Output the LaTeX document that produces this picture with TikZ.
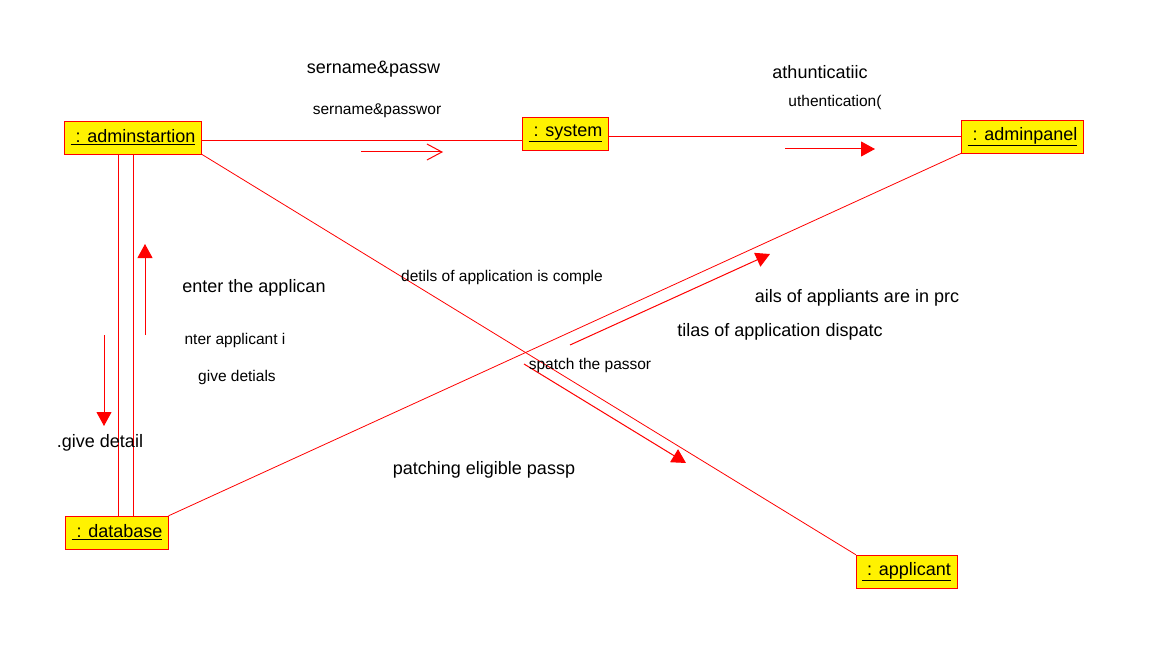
\documentclass[tikz,border=0pt]{standalone}
\usepackage{fontspec}
\setmainfont{Liberation Sans}
\usetikzlibrary{arrows.meta, positioning}

\begin{document}
\begin{tikzpicture}[
        x=1pt, y=-1pt,
        on grid,
        % Define a uniform style for all objects
        obj/.style={
            rectangle,
            draw=red,
            fill=yellow,
            minimum height=33pt,
            inner xsep=6pt,
            font=\fontsize{18}{20}\selectfont
        },
        link/.style={
            draw=red,
            line width=0.8pt
        },
        msg/.style={
            -{Triangle[length=14pt,width=15pt]},
            red,
            line width=1pt
        },
        openmsg/.style={
            -{Straight Barb[length=15pt,width=16pt]},
            red,
            line width=1pt
        },
        biglbl/.style={font=\fontsize{18}{20}\selectfont, inner sep=0pt},
        smalllbl/.style={font=\fontsize{15.5}{18}\selectfont, inner sep=0pt}
    ]

    \useasboundingbox (0,0) rectangle (1161,647);

    % Draw the Objects
    \node (admin) [obj] at (133,137.5) {\underline{\ : adminstartion}};
    \node (system) [obj, above right=4pt and 432.5pt of admin] {\underline{\ : system}};
    \node (panel) [obj, below right=3pt and 457pt of system] {\underline{\ : adminpanel}};
    \node (db) [obj, below left=395pt and 16pt of admin] {\underline{\ : database}};
    \node (applicant) [obj, below right=39pt and 789.5pt of db] {\underline{\ : applicant}};

    % Draw the links
    \draw [link] ([yshift=-2.5pt]admin.east) -- ([yshift=-2.5pt]admin.east -| system.west);
    \draw [link] ([yshift=-2.5pt]system.east) -- ([yshift=-2.5pt]system.east -| panel.west);
    \draw [link] ([xshift=-15pt]admin.south) -- ([xshift=-15pt]admin.south |- db.north);
    \draw [link] (admin.south) -- (admin.south |- db.north);
    \draw [link] (admin.south east) -- (applicant.north west);
    \draw [link] (db.north east) -- (panel.south west);

    % Message arrows
    \coordinate (m1a) at (361,152);
    \coordinate (m1b) at (443,152);
    \coordinate (m2a) at (785,149);
    \coordinate (m2b) at (875,149);
    \coordinate (m3a) at (104,335);
    \coordinate (m3b) at (104,426);
    \coordinate (m4a) at (145,335);
    \coordinate (m4b) at (145,244);
    \coordinate (m5a) at (570,345);
    \coordinate (m5b) at (770,254);
    \coordinate (m6a) at (524,364);
    \coordinate (m6b) at (686,463);

    \draw [openmsg] (m1a) -- (m1b);
    \draw [msg] (m2a) -- (m2b);
    \draw [msg] (m3a) -- (m3b);
    \draw [msg] (m4a) -- (m4b);
    \draw [msg] (m5a) -- (m5b);
    \draw [msg] (m6a) -- (m6b);

    % Message labels
    \node (l1) [biglbl] at (373.5,69) {sername\&passw};
    \node (l2) [smalllbl] at (377,111) {sername\&passwor};
    \node (l3) [biglbl] at (820,72) {athunticatiic};
    \node (l4) [smalllbl] at (835,102) {uthentication(};
    \node (l5) [biglbl] at (254,288) {enter the applican};
    \node (l6) [smalllbl] at (235,340) {nter applicant i};
    \node (l7) [smalllbl] at (237,377) {give detials};
    \node (l8) [biglbl] at (100,443) {.give detail};
    \node (l9) [smalllbl] at (502,277) {detils of application is comple};
    \node (l10) [biglbl] at (857,298) {ails of appliants are in prc};
    \node (l11) [biglbl] at (780,332) {tilas of application dispatc};
    \node (l12) [smalllbl] at (590,365) {spatch the passor};
    \node (l13) [biglbl] at (484,470) {patching eligible passp};

\end{tikzpicture}
\end{document}
